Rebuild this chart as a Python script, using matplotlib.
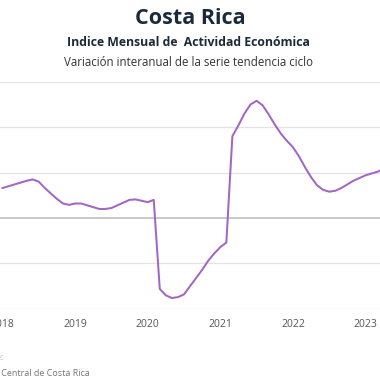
import matplotlib
matplotlib.use("Agg")
import matplotlib.pyplot as plt
import numpy as np

# Variación interanual (%) de la serie tendencia ciclo, mensual desde ene-2018
VALORES = [
    3.3, 3.5, 3.7, 3.9, 4.1, 4.25, 4.0, 3.3, 2.7, 2.1, 1.6, 1.45,   # 2018
    1.6, 1.6, 1.4, 1.2, 1.0, 1.0, 1.1, 1.4, 1.7, 2.0, 2.05, 1.9,    # 2019
    1.75, 2.0, -7.8, -8.5, -8.8, -8.7, -8.4, -7.5, -6.6, -5.7, -4.7, -3.9,  # 2020
    -3.2, -2.7, 9.0, 10.2, 11.5, 12.5, 12.9, 12.4, 11.4, 10.3, 9.3, 8.5,   # 2021
    7.8, 6.8, 5.6, 4.5, 3.6, 3.1, 2.9, 3.0, 3.3, 3.7, 4.1, 4.4,     # 2022
    4.7, 4.9, 5.1, 5.4,                                              # 2023
]
ANIOS = [2018, 2019, 2020, 2021, 2022, 2023]
Y_TICKS = [-10, -5, 0, 5, 10, 15]

MORADO = "#a266c4"
AZUL_OSCURO = "#1b2a3b"
GRIS_GRID = "#e3e3e3"

plt.rcParams["font.family"] = ["Open Sans", "DejaVu Sans"]

fig = plt.figure(figsize=(3.8, 3.8), dpi=100)
ax = fig.add_axes([0.0, 0.187, 1.0, 0.598])

meses = np.arange(len(VALORES))
ax.plot(meses, VALORES, color=MORADO, lw=1.45, solid_joinstyle="round")

ax.set_xlim(-0.41, 62.4)
ax.set_ylim(Y_TICKS[0], Y_TICKS[-1])
ax.set_yticks(Y_TICKS)
ax.set_yticklabels([])
ax.tick_params(axis="y", length=0)
ax.set_xticks([(a - ANIOS[0]) * 12 for a in ANIOS])
ax.set_xticklabels([str(a) for a in ANIOS], fontsize=7.5, color="#555555")
ax.tick_params(axis="x", length=0, pad=7)

for y in Y_TICKS:
    if y == 0:
        ax.axhline(y, color="#c9c9c9", lw=1.4, zorder=0)
    else:
        ax.axhline(y, color=GRIS_GRID, lw=0.9, zorder=0)
for s in ax.spines.values():
    s.set_visible(False)

fig.text(0.5, 1 - 18 / 380, "Costa Rica", ha="center", va="center",
         fontsize=15.5, fontweight="bold", color=AZUL_OSCURO)
fig.text(0.495, 1 - 42 / 380, "Indice Mensual de  Actividad Económica", ha="center",
         va="center", fontsize=8.8, fontweight="bold", color=AZUL_OSCURO)
fig.text(0.495, 1 - 62 / 380, "Variación interanual de la serie tendencia ciclo",
         ha="center", va="center", fontsize=8.3, color="#333333")

fig.text(3 / 380, 1 - 358 / 380, "Fuente:", ha="right", va="center",
         fontsize=6.5, color="#777777")
fig.text(90 / 380, 1 - 373 / 380, "Banco Central de Costa Rica", ha="right",
         va="center", fontsize=6.5, color="#777777")

fig.savefig("out.png", dpi=100)
